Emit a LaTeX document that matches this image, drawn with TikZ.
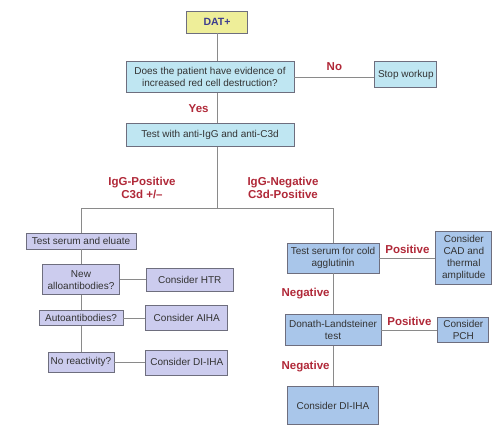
\documentclass[tikz,border=0pt]{standalone}
\usepackage{fontspec}
\setmainfont{Liberation Sans}
\usetikzlibrary{positioning}

\definecolor{cyanfill}{HTML}{BFE6F2}
\definecolor{lavfill}{HTML}{CCCCEE}
\definecolor{bluefill}{HTML}{A9C6EA}
\definecolor{yelfill}{HTML}{EEEE99}
\definecolor{boxline}{HTML}{6E6E7E}
\definecolor{linegray}{HTML}{8A8A8A}
\definecolor{txt}{HTML}{333333}
\definecolor{lblred}{HTML}{B02838}
\definecolor{datblue}{HTML}{3D3D8F}

\begin{document}
\begin{tikzpicture}[x=1pt, y=-1pt,
    box/.style={draw=boxline, line width=0.8pt, inner sep=2pt, align=center,
                text=txt, font=\fontsize{10}{12}\selectfont},
    cyan box/.style={box, fill=cyanfill},
    lav box/.style={box, fill=lavfill},
    blue box/.style={box, fill=bluefill},
    lbl/.style={text=lblred, align=center, inner sep=0pt,
                font=\bfseries\fontsize{11.5}{13}\selectfont},
    link/.style={draw=linegray, line width=0.9pt}]

  \useasboundingbox (0,0) rectangle (500,428);

  % top of the chart
  \node[box, fill=yelfill, minimum width=61pt, minimum height=22pt,
        text=datblue, font=\bfseries\fontsize{10.5}{12}\selectfont] (dat) at (217,22) {DAT+};
  \node[cyan box, minimum width=168pt, minimum height=31pt, xshift=-7pt]
        (q) [below=28pt of dat] {Does the patient have evidence of\\increased red cell destruction?};
  \node[cyan box, minimum width=62pt, minimum height=26pt, yshift=2.5pt]
        (stop) [right=80pt of q] {Stop workup};
  \node[cyan box, minimum width=168pt, minimum height=23pt]
        (test) [below=30pt of q] {Test with anti-IgG and anti-C3d};
  \coordinate (split) at (217,208);

  % IgG branch
  \node[lav box, minimum width=110pt, minimum height=16pt] (ser) at (81,241) {Test serum and eluate};
  \node[lav box, minimum width=77pt, minimum height=30pt] (allo) [below=15pt of ser] {New\\alloantibodies?};
  \node[lav box, minimum width=87pt, minimum height=23pt] (htr) [right=26pt of allo] {Consider HTR};
  \node[lav box, minimum width=84pt, minimum height=15pt] (auto) [below=15pt of allo] {Autoantibodies?};
  \node[lav box, minimum width=82pt, minimum height=25pt] (aiha) [right=22pt of auto] {Consider AIHA};
  \node[lav box, minimum width=66pt, minimum height=20pt] (norx) [below=26pt of auto] {No reactivity?};
  \node[lav box, minimum width=82pt, minimum height=25pt] (dihaL) [right=31pt of norx] {Consider DI-IHA};

  % C3d branch
  \node[blue box, minimum width=92pt, minimum height=30pt] (cold) at (333,258) {Test serum for cold\\agglutinin};
  \node[blue box, minimum width=56pt, minimum height=53pt] (cad) [right=56pt of cold] {Consider\\CAD and\\thermal\\amplitude};
  \node[blue box, minimum width=96pt, minimum height=31pt] (dl) [below=41pt of cold] {Donath-Landsteiner\\test};
  \node[blue box, minimum width=51pt, minimum height=25pt] (pch) [right=56pt of dl] {Consider\\PCH};
  \node[blue box, minimum width=91pt, minimum height=38pt] (dihaR) [below=40pt of dl] {Consider DI-IHA};

  % connectors
  \path[link] (dat.south) -- (dat.south |- q.north);
  \path[link] (q.east) -- node[lbl, above=6pt] (no) {No} (q.east -| stop.west);
  \path[link] (dat.south |- q.south) -- node[lbl, left=8pt] (yes) {Yes} (dat.south |- test.north);
  \path[link] (dat.south |- test.south) -- (split);
  \path[link] (split) -- node[lbl, above=9pt, xshift=-7pt] (igpos) {IgG-Positive\\C3d +/\textendash}
        (split -| ser.north) -- (ser.north);
  \path[link] (split) -- node[lbl, above=9pt, xshift=8pt] (igneg) {IgG-Negative\\C3d-Positive}
        (split -| cold.north) -- (cold.north);
  \path[link] (ser.south) -- (allo.north);
  \path[link] (allo.south) -- (auto.north);
  \path[link] (auto.south) -- (norx.north);
  \path[link] (allo.east) -- (htr.west);
  \path[link] (auto.east) -- (aiha.west);
  \path[link] (norx.east) -- (dihaL.west);
  \path[link] (cold.east) -- node[lbl, above=4pt] (pos1) {Positive} (cad.west);
  \path[link] (cold.south) -- node[lbl, left=3pt] (neg1) {Negative} (dl.north);
  \path[link] (dl.east) -- node[lbl, above=4pt] (pos2) {Positive} (pch.west);
  \path[link] (dl.south) -- node[lbl, left=3pt] (neg2) {Negative} (dihaR.north);

\end{tikzpicture}
\end{document}
